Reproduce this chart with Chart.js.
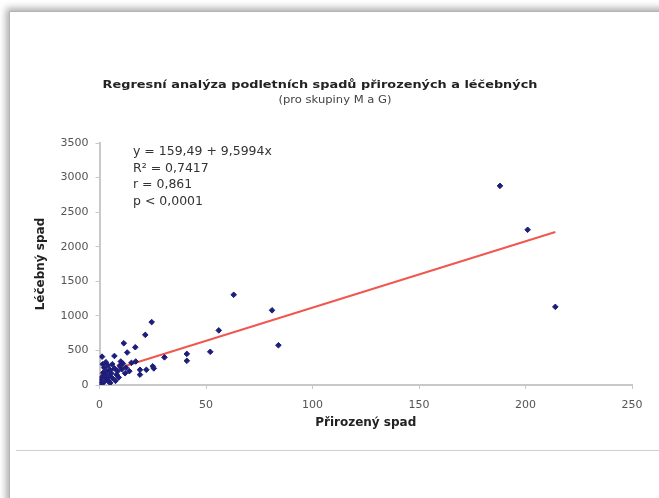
<!DOCTYPE html>
<html>
<head>
<meta charset="utf-8">
<script src="https://cdn.jsdelivr.net/npm/chart.js@4.4.1/dist/chart.umd.min.js"></script>
<style>
  html, body { margin: 0; padding: 0; background: #fff; width: 659px; height: 498px; overflow: hidden; }
  .frame { position: absolute; left: 9px; top: 11px; width: 700px; height: 540px;
           border-top: 1px solid #b4b4b4; border-left: 1px solid #b4b4b4;
           box-shadow: -3px -3px 7px rgba(0,0,0,0.32); }
  .rule { position: absolute; left: 16px; top: 450px; width: 643px; height: 1px; background: #cfcfcf; }
  #chart { position: absolute; left: 0; top: 0; }
</style>
</head>
<body>
<div class="frame"></div>
<div class="rule"></div>
<canvas id="chart" width="659" height="498"></canvas>
<script>
// přirozený spad (x) / léčebný spad (y)
const prirozeny = [0.5, 0.8, 1, 1.2, 1.5, 1.8, 2, 2.2, 2.5, 3, 3, 3.5, 4, 4, 4.5, 5, 5, 5.5, 6, 6,
  7, 7, 7.5, 8, 8.5, 9, 9.5, 10, 10.5, 11, 11.4, 12, 12.5, 13, 14, 15, 16.8, 17, 19, 19,
  21.5, 22, 24.5, 25, 25.5, 30.5, 41, 41, 52, 56, 63, 81, 84, 188, 201, 214];
const lecebny = [60, 20, 110, 410, 300, 180, 40, 250, 150, 90, 330, 200, 60, 280, 130, 30, 220, 170, 100, 300,
  420, 240, 60, 150, 200, 110, 280, 340, 230, 310, 604, 170, 250, 470, 200, 320, 546, 340, 150, 220,
  725, 220, 910, 270, 240, 400, 450, 350, 480, 790, 1305, 1080, 575, 2880, 2245, 1130];

const intercept = 159.49;
const slope = 9.5994;
const fitRange = [0, 214];
const statsLines = ['y = 159,49 + 9,5994x', 'R\u00b2 = 0,7417', 'r = 0,861', 'p < 0,0001'];
const titleText = 'Regresní analýza podletních spadů přirozených a léčebných';
const subtitleText = '(pro skupiny M a G)';

const FONT = "'DejaVu Sans', 'Liberation Sans', Arial, sans-serif";

// text in the original is a bit stretched sideways, so scale x a little
function wideText(ctx, text, x, y, sx) {
  ctx.save();
  ctx.translate(x, y);
  ctx.scale(sx, 1);
  ctx.fillText(text, 0, 0);
  ctx.restore();
}

const textPlugin = {
  id: 'texts',
  afterDraw(chart) {
    const ctx = chart.ctx;
    ctx.save();
    ctx.fillStyle = '#222';
    ctx.textBaseline = 'middle';
    ctx.textAlign = 'center';
    ctx.font = 'bold 11px ' + FONT;
    wideText(ctx, titleText, 320, 85, 1.17);
    ctx.font = '11px ' + FONT;
    ctx.fillStyle = '#444';
    wideText(ctx, subtitleText, 335, 100, 1.05);
    ctx.textAlign = 'left';
    ctx.fillStyle = '#333';
    ctx.font = '12px ' + FONT;
    statsLines.forEach((t, i) => wideText(ctx, t, 133, 152 + i * 16.5, 1.04));
    ctx.restore();
  }
};

const points = prirozeny.map((x, i) => ({ x, y: lecebny[i] }));
const fit = fitRange.map(x => ({ x, y: intercept + slope * x }));

new Chart(document.getElementById('chart'), {
  type: 'scatter',
  data: {
    datasets: [
      { data: points, pointStyle: 'rectRot', pointRadius: 2.8, backgroundColor: '#1d1d7a', borderColor: '#1d1d7a', borderWidth: 1 },
      { type: 'line', data: fit, borderColor: '#f0584f', borderWidth: 2, pointRadius: 0, fill: false }
    ]
  },
  options: {
    responsive: false,
    animation: false,
    layout: { padding: { left: 29.5, right: 27, top: 143, bottom: 68 } },
    plugins: { legend: { display: false }, tooltip: { enabled: false } },
    scales: {
      x: {
        type: 'linear', min: 0, max: 250,
        ticks: { stepSize: 50, color: '#555', padding: 10, font: { family: FONT, size: 11 }, callback: v => String(v) },
        grid: { drawOnChartArea: false, drawTicks: true, tickLength: 4, color: '#c8c8c8' },
        border: { color: '#c8c8c8', width: 2 },
        title: { display: true, text: 'Přirozený spad', color: '#222', padding: { top: 4, bottom: 0 }, font: { family: FONT, size: 12, weight: 'bold' } },
        afterFit(s) { s.height = 45; }
      },
      y: {
        min: 0, max: 3500,
        ticks: { stepSize: 500, color: '#555', padding: 7, font: { family: FONT, size: 11 }, callback: v => String(v) },
        grid: { drawOnChartArea: false, drawTicks: true, tickLength: 4, color: '#c8c8c8' },
        border: { color: '#c8c8c8', width: 2 },
        title: { display: true, text: 'Léčebný spad', color: '#222', padding: 4, font: { family: FONT, size: 12, weight: 'bold' } },
        afterFit(s) { s.width = 70; }
      }
    }
  },
  plugins: [textPlugin]
});
</script>
</body>
</html>
